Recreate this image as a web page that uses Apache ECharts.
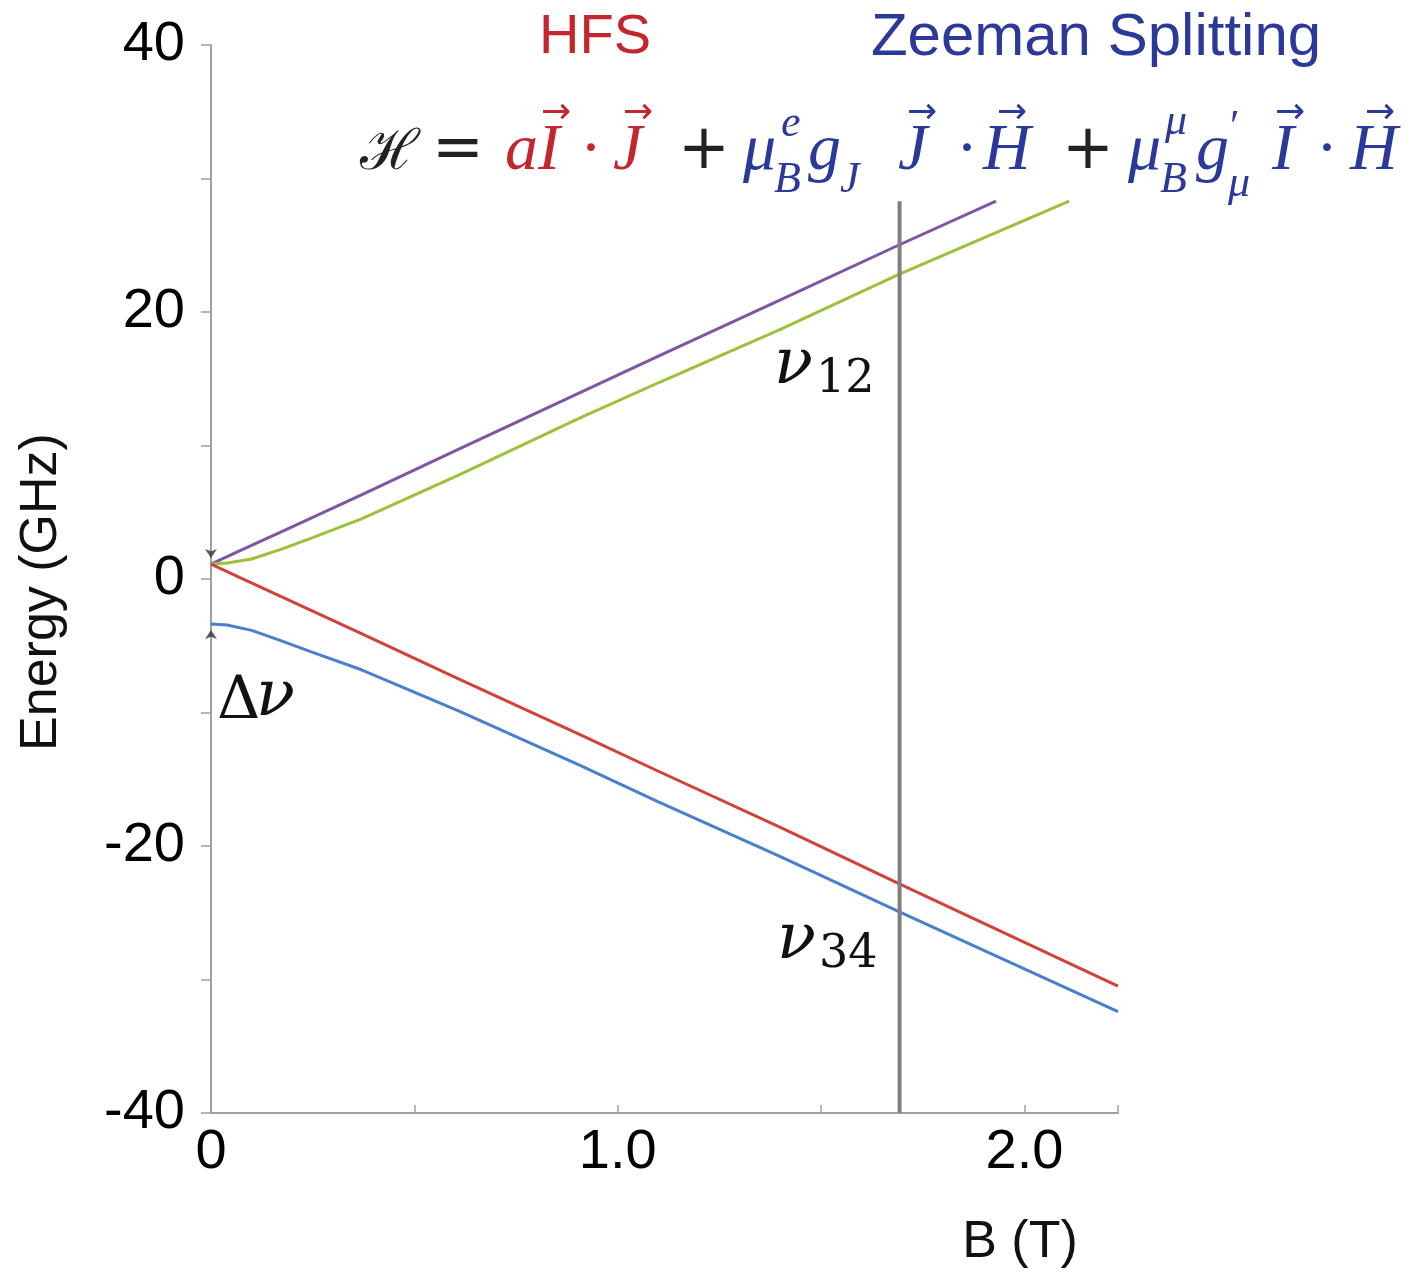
<!DOCTYPE html>
<html>
<head>
<meta charset="utf-8">
<script src="https://cdn.jsdelivr.net/npm/echarts@6/dist/echarts.min.js"></script>
<style>
  html, body { margin: 0; padding: 0; background: #fff; }
  #chart { width: 1425px; height: 1273px; }
</style>
</head>
<body>
<div id="chart"></div>
<script>
// field B (T) and energy (GHz)
const bPurple = [0, 0.07, 0.17, 0.37, 0.6, 0.91, 1.1, 1.4, 1.69, 1.93]
const ePurple = [1.12, 2.1, 3.5, 6.3, 9.6, 14.0, 16.7, 20.9, 25.0, 28.3]
const bGreen = [0, 0.04, 0.1, 0.17, 0.25, 0.37, 0.61, 0.91, 1.1, 1.4, 1.69, 2.11]
const eGreen = [1.12, 1.2, 1.5, 2.2, 3.1, 4.5, 7.8, 12.1, 14.7, 18.7, 22.8, 28.3]
const bRed = [0, 0.07, 0.17, 0.37, 0.61, 0.91, 1.1, 1.4, 1.69, 2.23]
const eRed = [1.12, 0.13, -1.28, -4.1, -7.5, -11.7, -14.4, -18.6, -22.8, -30.5]
const bBlue = [0, 0.04, 0.1, 0.17, 0.25, 0.37, 0.61, 0.91, 1.1, 1.4, 1.69, 2.23]
const eBlue = [-3.37, -3.44, -3.85, -4.6, -5.5, -6.8, -9.9, -14.0, -16.7, -20.8, -24.9, -32.4]

// vertical marker at the working field
const bMarker = [1.693, 1.693]
const eMarker = [28.3, -40]

// delta nu end points on the energy axis
const deltaTop = [0, 1.12]
const deltaBottom = [0, -3.37]

const xTickLabels = { 0: '0', 1: '1.0', 2: '2.0' }
const yTickLabels = [40, 20, 0, -20, -40]

const RED = '#c4262e'
const BLUE = '#2b3a9a'
const SERIF = '"Liberation Serif", "DejaVu Serif", serif'
const DSERIF = '"DejaVu Serif", serif'
const SANS = '"Liberation Sans", Arial, sans-serif'
const SYM = '"DejaVu Sans", sans-serif'

function pairs (xs, ys) {
  return xs.map((x, i) => [x, ys[i]])
}

function txt (x, y, s, size, color, opts) {
  opts = opts || {}
  return {
    type: 'text',
    x: x,
    y: y,
    rotation: opts.rotation || 0,
    style: {
      text: s,
      fontSize: size,
      fontFamily: opts.family || SERIF,
      fontStyle: opts.italic ? 'italic' : 'normal',
      fill: color,
      align: opts.align || 'left',
      verticalAlign: 'middle'
    }
  }
}

function arrow (cx, y, color) {
  return txt(cx, y, '→', 36, color, { family: SYM, align: 'center' })
}

const M = 66 // main formula size
const S = 44 // sub/superscript size
const my = 152
const subY = 180
const supY = 124
const ay = 114

const formula = [
  txt(360, my + 2, 'ℋ', 56, '#222', { family: DSERIF }),
  txt(432, my, '=', 62, '#222', { family: SYM }),
  txt(505, my, 'a', M, RED, { italic: true }),
  txt(538, my, 'I', M, RED, { italic: true }),
  arrow(556, ay, RED),
  txt(580, my, '·', M, RED),
  txt(613, my, 'J', M, RED, { italic: true }),
  arrow(638, ay, RED),
  txt(678, my, '+', 62, '#222', { family: SYM }),
  txt(743, my, 'μ', M, BLUE, { italic: true }),
  txt(781, supY, 'e', S, BLUE, { italic: true }),
  txt(774, subY, 'B', S, BLUE, { italic: true }),
  txt(808, my, 'g', M, BLUE, { italic: true }),
  txt(840, subY, 'J', S, BLUE, { italic: true }),
  txt(898, my, 'J', M, BLUE, { italic: true }),
  arrow(922, ay, BLUE),
  txt(956, my, '·', M, BLUE),
  txt(983, my, 'H', M, BLUE, { italic: true }),
  arrow(1012, ay, BLUE),
  txt(1062, my, '+', 62, '#222', { family: SYM }),
  txt(1128, my, 'μ', M, BLUE, { italic: true }),
  txt(1165, supY - 2, 'μ', S, BLUE, { italic: true }),
  txt(1160, subY, 'B', S, BLUE, { italic: true }),
  txt(1196, my, 'g', M, BLUE, { italic: true }),
  txt(1230, supY + 4, '′', S, BLUE),
  txt(1228, subY + 4, 'μ', S, BLUE, { italic: true }),
  txt(1272, my, 'I', M, BLUE, { italic: true }),
  arrow(1290, ay, BLUE),
  txt(1316, my, '·', M, BLUE),
  txt(1350, my, 'H', M, BLUE, { italic: true }),
  arrow(1380, ay, BLUE)
]

const labels = [
  txt(595, 38, 'HFS', 56, RED, { family: SANS, align: 'center' }),
  txt(1096, 38, 'Zeeman Splitting', 60, BLUE, { family: SANS, align: 'center' }),
  txt(42, 592, 'Energy (GHz)', 52, '#111', { family: SANS, align: 'center', rotation: Math.PI / 2 }),
  txt(1020, 1243, 'B (T)', 52, '#111', { family: SANS, align: 'center' }),
  txt(774, 366, 'ν', 64, '#111', { italic: true, family: DSERIF }),
  txt(816, 380, '12', 46, '#111', { family: DSERIF }),
  txt(777, 941, 'ν', 64, '#111', { italic: true, family: DSERIF }),
  txt(819, 955, '34', 46, '#111', { family: DSERIF }),
  txt(217, 702, 'Δ', 60, '#111', { family: DSERIF }),
  txt(256, 698, 'ν', 64, '#111', { italic: true, family: DSERIF })
]

function curve (name, xs, ys, color) {
  return {
    name: name,
    type: 'line',
    data: pairs(xs, ys),
    showSymbol: false,
    smooth: false,
    lineStyle: { color: color, width: 3 },
    z: 3
  }
}

const option = {
  animation: false,
  grid: { left: 211, right: 307, top: 45, bottom: 160, outerBoundsMode: 'none' },
  xAxis: {
    type: 'value',
    min: 0,
    max: 2.23,
    interval: 0.5,
    axisLine: { onZero: false, lineStyle: { color: '#a0a0a0', width: 2 } },
    axisTick: { inside: true, length: 8, lineStyle: { color: '#a0a0a0', width: 1.5 } },
    axisLabel: {
      margin: 12,
      fontSize: 56,
      fontFamily: SANS,
      color: '#000',
      formatter: v => xTickLabels[v] !== undefined ? xTickLabels[v] : ''
    },
    splitLine: { show: false }
  },
  yAxis: {
    type: 'value',
    min: -40,
    max: 40,
    interval: 10,
    axisLine: { show: true, onZero: false, lineStyle: { color: '#a0a0a0', width: 2 } },
    axisTick: { show: true, length: 10, lineStyle: { color: '#a0a0a0', width: 1.5 } },
    axisLabel: {
      margin: 26,
      fontSize: 56,
      fontFamily: SANS,
      color: '#000',
      formatter: v => yTickLabels.indexOf(v) >= 0 ? String(v) : ''
    },
    splitLine: { show: false }
  },
  series: [
    curve('F=1, m=+1', bPurple, ePurple, '#7f55a5'),
    curve('F=1, m=0', bGreen, eGreen, '#9bc23a'),
    curve('F=1, m=-1', bRed, eRed, '#d0423a'),
    curve('F=0, m=0', bBlue, eBlue, '#4a7fcf'),
    {
      type: 'line',
      data: pairs(bMarker, eMarker),
      showSymbol: false,
      lineStyle: { color: '#7f7f7f', width: 4 },
      z: 4
    },
    {
      type: 'scatter',
      data: [deltaTop],
      symbol: 'arrow',
      symbolSize: [9, 9],
      symbolRotate: 180,
      symbolOffset: [0, -6],
      itemStyle: { color: '#333' },
      z: 5
    },
    {
      type: 'scatter',
      data: [deltaBottom],
      symbol: 'arrow',
      symbolSize: [9, 9],
      symbolOffset: [0, 6],
      itemStyle: { color: '#333' },
      z: 5
    }
  ],
  graphic: formula.concat(labels)
}

const chart = echarts.init(document.getElementById('chart'))
chart.setOption(option)
window.onresize = () => chart.resize()
</script>
</body>
</html>
